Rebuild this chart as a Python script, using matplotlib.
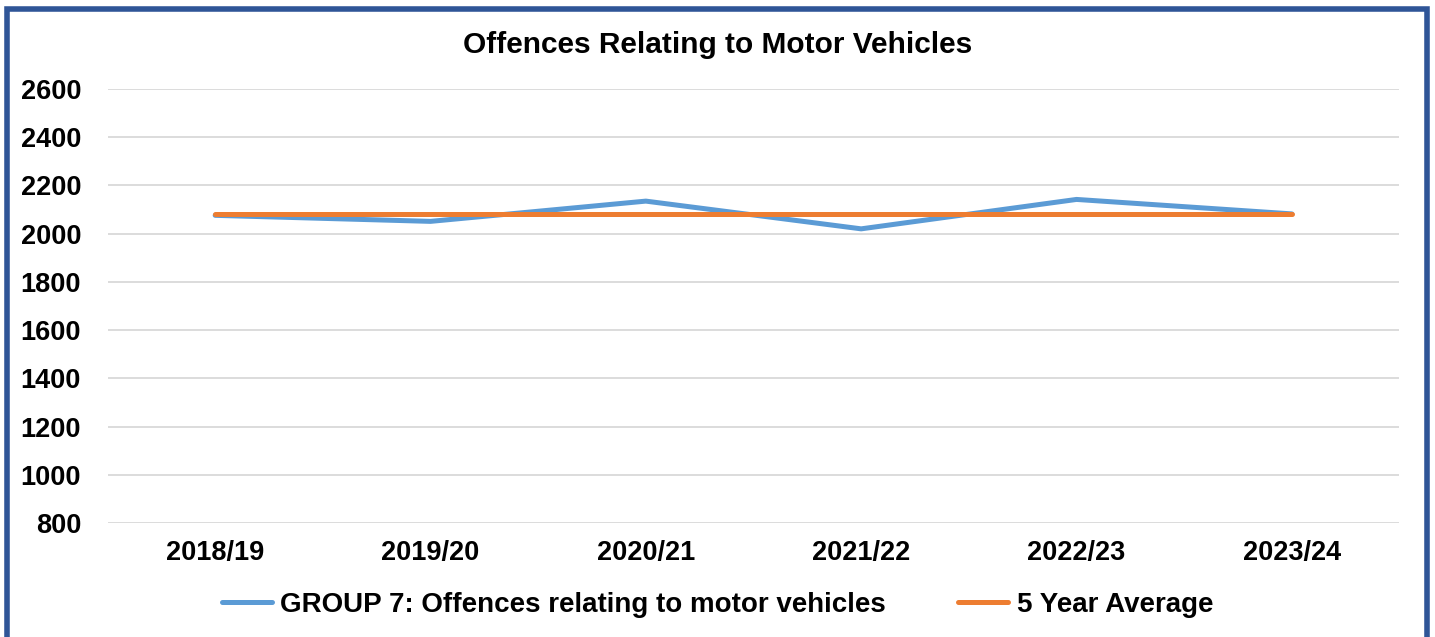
import matplotlib.pyplot as plt
from matplotlib.patches import Rectangle

plt.rcParams['font.family'] = ['Liberation Sans', 'DejaVu Sans']

years = ["2018/19", "2019/20", "2020/21", "2021/22", "2022/23", "2023/24"]
group7 = [2076, 2051, 2135, 2020, 2142, 2082]
avg5 = [2082, 2082, 2082, 2082, 2082, 2082]
yticks = [800, 1000, 1200, 1400, 1600, 1800, 2000, 2200, 2400, 2600]

fig = plt.figure(figsize=(14.35, 6.37), dpi=100)
ax = fig.add_axes([107.5 / 1435, 1 - 523 / 637, 1292 / 1435, 434 / 637])

x = range(len(years))
ax.plot(x, group7, color="#5B9BD5", lw=3.6, solid_capstyle="round",
        label="GROUP 7: Offences relating to motor vehicles")
ax.plot(x, avg5, color="#ED7D31", lw=3.6, solid_capstyle="round",
        label="5 Year Average")

ax.set_xlim(-0.5, len(years) - 0.5)
ax.set_ylim(800, 2600)
ax.set_yticks(yticks)
ax.set_xticks(list(x))
ax.set_xticklabels(years)
ax.tick_params(length=0, labelsize=19.5)
for lab in ax.get_xticklabels() + ax.get_yticklabels():
    lab.set_fontweight("bold")
ax.tick_params(axis="y", pad=19)
ax.tick_params(axis="x", pad=12)
ax.grid(axis="y", color="#D9D9D9", lw=1.3)
ax.set_axisbelow(True)
for s in ax.spines.values():
    s.set_visible(False)

fig.text(0.5, 1 - 45 / 637, "Offences Relating to Motor Vehicles",
         ha="center", va="center", fontsize=21.5, fontweight="bold")

leg = fig.legend(loc="center", bbox_to_anchor=(0.5, 1 - 605 / 637), ncol=2,
                 frameon=False, prop={"size": 20, "weight": "bold"},
                 handlelength=1.8, handletextpad=0.3, columnspacing=2.6)

# outer border
fig.patches.append(Rectangle((6.5 / 1435, -0.05), 1420.5 / 1435, 1.05 - 9 / 637,
                             transform=fig.transFigure, fill=False,
                             edgecolor="#2F5597", lw=4))

fig.savefig("out.png", dpi=100)
